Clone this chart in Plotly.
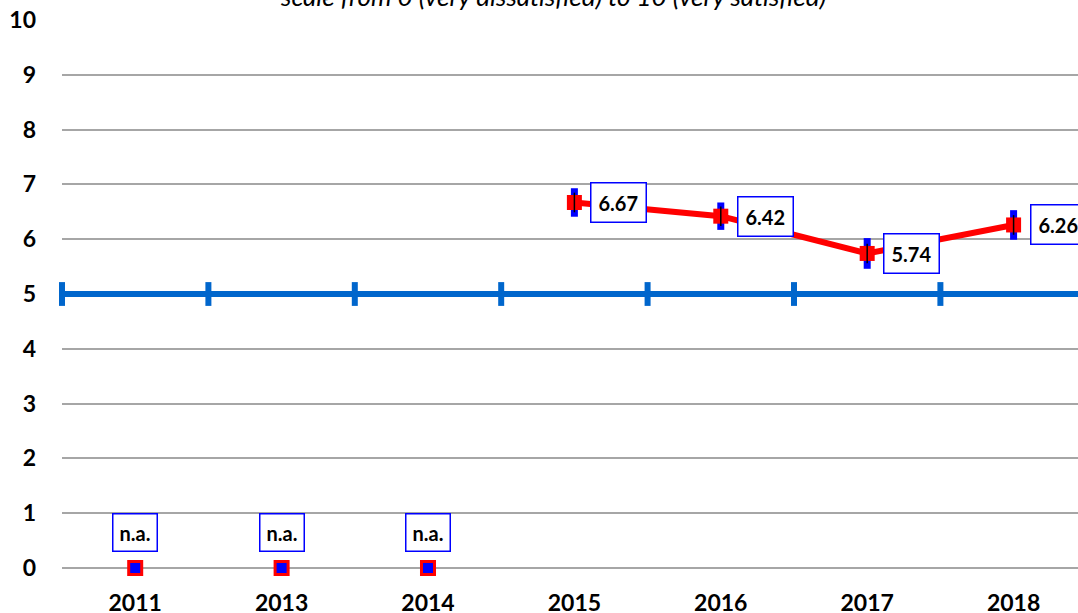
import plotly.graph_objects as go

years = ["2011", "2013", "2014", "2015", "2016", "2017", "2018"]
scores = [None, None, None, 6.67, 6.42, 5.74, 6.26]
errors = [None, None, None, 0.26, 0.25, 0.28, 0.27]
na_years = ["2011", "2013", "2014"]
threshold = 5
title_text = "scale from 0 (very dissatisfied) to 10 (very satisfied)"

idx = {y: i for i, y in enumerate(years)}
xs = [idx[y] for y in years if scores[idx[y]] is not None]
ys = [s for s in scores if s is not None]
es = [e for e in errors if e is not None]
na_x = [idx[y] for y in na_years]

FONT = "Lato"
fig = go.Figure()

# threshold line with boundary ticks
bx = [i - 0.5 for i in range(len(years) + 1)]
fig.add_trace(go.Scatter(
    x=bx, y=[threshold] * len(bx), mode="lines+markers",
    line=dict(color="#0066CC", width=6),
    marker=dict(symbol="line-ns", size=17, line=dict(color="#0066CC", width=6)),
    cliponaxis=False, hoverinfo="skip"))

# main series
fig.add_trace(go.Scatter(
    x=xs, y=ys, mode="lines+markers",
    line=dict(color="#FF0000", width=6),
    marker=dict(symbol="square", size=15, color="#FF0000"),
    error_y=dict(type="data", array=es, color="#0000FF", thickness=7, width=0),
    cliponaxis=False, hoverinfo="skip"))
# black inner error line
fig.add_trace(go.Scatter(
    x=xs, y=ys, mode="markers",
    marker=dict(symbol="line-ns", size=14, line=dict(color="black", width=1.5)),
    cliponaxis=False, hoverinfo="skip"))

# n.a. points
fig.add_trace(go.Scatter(
    x=na_x, y=[0] * len(na_x), mode="markers",
    marker=dict(symbol="square", size=13, color="#0000FF", line=dict(color="#FF0000", width=3)),
    cliponaxis=False, hoverinfo="skip"))

for x, y in zip(xs, ys):
    fig.add_annotation(x=x, y=y, text=f"{y:.2f}", showarrow=False, xanchor="left",
                       xshift=16, font=dict(family=FONT, size=20, color="black", weight="bold"),
                       bgcolor="white", bordercolor="#0000FF", borderwidth=1.5, borderpad=7)
for x in na_x:
    fig.add_annotation(x=x, y=0, text="n.a.", showarrow=False, yshift=36,
                       font=dict(family=FONT, size=20, color="black", weight="bold"),
                       bgcolor="white", bordercolor="#0000FF", borderwidth=1.5, borderpad=6)

fig.add_annotation(x=(553 - 62) / (1078 - 62), xref="paper", y=1.0, yref="paper", yshift=24,
                   text=title_text, showarrow=False, yanchor="middle",
                   font=dict(family=FONT, size=26, color="black", style="italic"))

fig.update_layout(
    width=1078, height=613,
    margin=dict(l=62, r=0, t=20, b=45),
    paper_bgcolor="white", plot_bgcolor="white",
    showlegend=False,
    font=dict(family=FONT),
    xaxis=dict(range=[-0.5, 6.44], tickvals=list(range(len(years))), ticktext=years,
               showgrid=False, zeroline=False, showline=False, automargin=False,
               tickfont=dict(family=FONT, size=23, color="black", weight="bold"),
               ticklabelstandoff=19),
    yaxis=dict(range=[0, 10], dtick=1, showgrid=True, gridcolor="#A6A6A6", gridwidth=2,
               zeroline=True, zerolinecolor="#A6A6A6", zerolinewidth=2, showline=False,
               automargin=False,
               tickfont=dict(family=FONT, size=23, color="black", weight="bold"),
               ticklabelstandoff=25),
)

fig.write_html("out.html", config={"displayModeBar": False},
               post_script="document.body.style.margin='0';document.body.style.overflow='hidden';")
